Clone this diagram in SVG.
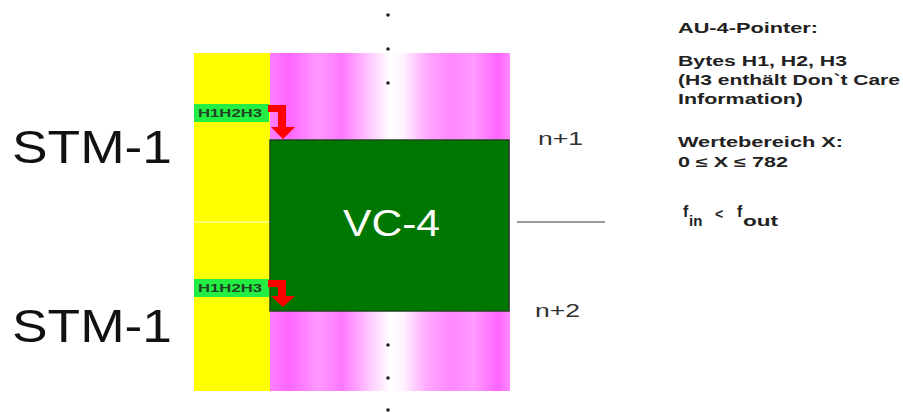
<svg xmlns="http://www.w3.org/2000/svg" width="903" height="412" viewBox="0 0 903 412">
<style>
.big{font-family:"Liberation Sans",Arial,sans-serif;fill:#111}
.info{font-family:"Liberation Sans",Arial,sans-serif;font-weight:bold;font-size:14px;fill:#222}
.lbl{font-family:"Liberation Sans",Arial,sans-serif;font-size:19px;fill:#333}
.ptr{fill:#22ee44}
.ptrtxt{font-family:"Liberation Sans",Arial,sans-serif;font-weight:bold;font-size:10px;fill:#224422}
.arrow{fill:#ff0000}
.dot{fill:#222}
</style>
<defs>
<linearGradient id="pink" x1="270" y1="0" x2="510" y2="0" gradientUnits="userSpaceOnUse">
<stop offset="0" stop-color="#ff80ff"/>
<stop offset="0.08" stop-color="#ff66ff"/>
<stop offset="0.2" stop-color="#ff99ff"/>
<stop offset="0.3" stop-color="#ff77ff"/>
<stop offset="0.42" stop-color="#ffccff"/>
<stop offset="0.5" stop-color="#ffffff"/>
<stop offset="0.56" stop-color="#fff0ff"/>
<stop offset="0.65" stop-color="#ffaaff"/>
<stop offset="0.75" stop-color="#ff88ff"/>
<stop offset="0.85" stop-color="#ff99ff"/>
<stop offset="0.95" stop-color="#ff66ff"/>
<stop offset="1" stop-color="#ff88ff"/>
</linearGradient>
</defs>
<rect width="903" height="412" fill="#ffffff"/>
<g id="frame">
<rect x="270" y="53" width="240" height="338" fill="url(#pink)"/>
<rect x="194" y="53" width="76" height="338" fill="#ffff00"/>
<line x1="194" y1="222" x2="270" y2="222" stroke="#ffffdd" stroke-width="1"/>
</g>
<g id="vc4">
<rect x="270" y="140" width="239" height="171" fill="#007700" stroke="#1a4a1a" stroke-width="1.5"/>
<text class="big" x="343" y="236" font-size="36" style="fill:#ffffff" textLength="97" lengthAdjust="spacingAndGlyphs">VC-4</text>
</g>
<g id="ptr1">
<rect class="ptr" x="194" y="104" width="75" height="18"/>
<text class="ptrtxt" x="198" y="117" textLength="64" lengthAdjust="spacingAndGlyphs">H1H2H3</text>
<path class="arrow" d="M268 105 H286 V127 H295 L283 139 L271 127 H278 V112 H268 Z"/>
</g>
<g id="ptr2">
<rect class="ptr" x="194" y="279" width="75" height="18"/>
<text class="ptrtxt" x="198" y="292" textLength="64" lengthAdjust="spacingAndGlyphs">H1H2H3</text>
<path class="arrow" d="M268 280 H286 V296 H295 L283 307 L271 296 H278 V287 H268 Z"/>
</g>
<g id="dots">
<circle class="dot" cx="388" cy="15" r="1.8"/>
<circle class="dot" cx="388" cy="49" r="1.8"/>
<circle class="dot" cx="388" cy="83" r="1.8"/>
<circle class="dot" cx="388" cy="345" r="1.8"/>
<circle class="dot" cx="388" cy="378" r="1.8"/>
<circle class="dot" cx="388" cy="410" r="1.8"/>
</g>
<g id="connectors">
<line x1="517" y1="222" x2="605" y2="222" stroke="#9a9a9a" stroke-width="2"/>
</g>
<g id="stm1-top"><text class="big" x="12" y="163" font-size="46" textLength="160" lengthAdjust="spacingAndGlyphs">STM-1</text></g>
<g id="stm1-bottom"><text class="big" x="12" y="342" font-size="46" textLength="160" lengthAdjust="spacingAndGlyphs">STM-1</text></g>
<g id="n1"><text class="lbl" x="538" y="145" textLength="45" lengthAdjust="spacingAndGlyphs">n+1</text></g>
<g id="n2"><text class="lbl" x="535" y="317" textLength="45" lengthAdjust="spacingAndGlyphs">n+2</text></g>
<g id="info">
<text class="info" x="678" y="33" textLength="140" lengthAdjust="spacingAndGlyphs">AU-4-Pointer:</text>
<text class="info" x="678" y="66" textLength="169" lengthAdjust="spacingAndGlyphs">Bytes H1, H2, H3</text>
<text class="info" x="678" y="85" textLength="222" lengthAdjust="spacingAndGlyphs">(H3 enthält Don`t Care</text>
<text class="info" x="678" y="104" textLength="125" lengthAdjust="spacingAndGlyphs">Information)</text>
<text class="info" x="678" y="147" textLength="165" lengthAdjust="spacingAndGlyphs">Wertebereich X:</text>
<text class="info" x="678" y="167" textLength="110" lengthAdjust="spacingAndGlyphs">0 ≤ X ≤ 782</text>
</g>
<g id="freq">
<text class="info" x="683" y="217" style="font-size:16px">f</text>
<text class="info" x="689" y="226" style="font-size:15px">in</text>
<text class="info" x="715" y="219" style="font-size:14px">&lt;</text>
<text class="info" x="737" y="217" style="font-size:16px">f</text>
<text class="info" x="743" y="226" style="font-size:15px" textLength="35" lengthAdjust="spacingAndGlyphs">out</text>
</g>
</svg>
